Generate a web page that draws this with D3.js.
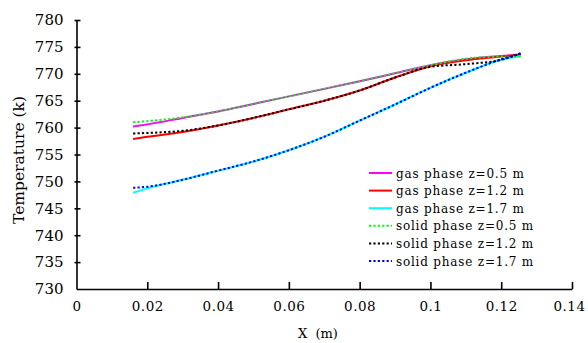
<!DOCTYPE html>
<html>
<head>
<meta charset="utf-8">
<script src="https://cdn.jsdelivr.net/npm/d3@7"></script>
<style>
  body { margin: 0; background: #fff; }
  .axis path, .axis line { stroke: #000; stroke-width: 1.6; }
  .axis text { font-family: "DejaVu Serif", serif; fill: #000; }
</style>
</head>
<body>
<svg id="chart"></svg>
<script>
// x positions (m)
const xValues = [0.016, 0.02, 0.03, 0.04, 0.05, 0.06, 0.07, 0.08, 0.09, 0.10, 0.11, 0.12, 0.1255];

// temperatures (k)
const gas05   = [760.2, 760.6, 761.8, 763.0, 764.4, 765.8, 767.2, 768.6, 770.1, 771.6, 772.7, 773.3, 773.5];
const gas12   = [757.9, 758.3, 759.2, 760.4, 761.8, 763.4, 765.0, 766.9, 769.3, 771.4, 772.5, 773.2, 773.6];
const gas17   = [747.9, 748.7, 750.3, 752.0, 753.7, 755.8, 758.3, 761.3, 764.3, 767.4, 770.2, 772.6, 773.3];
const solid05 = [761.0, 761.2, 761.9, 763.0, 764.4, 765.8, 767.2, 768.6, 770.1, 771.6, 772.8, 773.2, 773.2];
const solid12 = [758.9, 759.0, 759.4, 760.4, 761.8, 763.4, 765.0, 766.9, 769.3, 771.3, 771.8, 772.6, 773.8];
const solid17 = [748.8, 749.0, 750.3, 752.0, 753.7, 755.8, 758.3, 761.3, 764.3, 767.4, 770.2, 772.7, 773.8];

const seriesNames = ['gas phase z=0.5 m', 'gas phase z=1.2 m', 'gas phase z=1.7 m',
                     'solid phase z=0.5 m', 'solid phase z=1.2 m', 'solid phase z=1.7 m'];
const seriesColors = ['#ff00ff', '#ff0000', '#00ffff', '#00ff00', '#000000', '#0000ff'];
const seriesDashed = [false, false, false, true, true, true];

const xTicks = [0, 0.02, 0.04, 0.06, 0.08, 0.1, 0.12, 0.14];
const yTicks = [730, 735, 740, 745, 750, 755, 760, 765, 770, 775, 780];

const width = 588, height = 343;
const margin = { top: 20, right: 16, bottom: 54, left: 76.5 };
const innerW = width - margin.left - margin.right;
const innerH = height - margin.top - margin.bottom;

const svg = d3.select('#chart')
  .attr('width', width)
  .attr('height', height);

const g = svg.append('g')
  .attr('transform', `translate(${margin.left},${margin.top})`);

// Scales
const x = d3.scaleLinear().domain([0, 0.14]).range([0, innerW]);
const y = d3.scaleLinear().domain([730, 780]).range([innerH, 0]);

// Lines (solid ones first, dotted on top)
const allSeries = [gas05, gas12, gas17, solid05, solid12, solid17];
const line = d3.line()
  .x((d, i) => x(xValues[i]))
  .y(d => y(d))
  .curve(d3.curveMonotoneX);

allSeries.forEach((vals, k) => {
  g.append('path')
    .datum(vals)
    .attr('fill', 'none')
    .attr('stroke', seriesColors[k])
    .attr('stroke-width', 2)
    .attr('stroke-dasharray', seriesDashed[k] ? '2.2,2.2' : null)
    .attr('d', line);
});

// Axes
const xAxis = d3.axisBottom(x)
  .tickValues(xTicks)
  .tickSize(0)
  .tickPadding(12)
  .tickFormat(d => d === 0 ? '0' : String(+d.toFixed(2)));

const xAxisG = g.append('g')
  .attr('class', 'axis x-axis')
  .attr('transform', `translate(0,${innerH})`)
  .call(xAxis);
xAxisG.selectAll('.tick line')
  .attr('y1', 0).attr('y2', -7)
  .filter(d => d === 0).remove();
xAxisG.selectAll('text')
  .style('font-size', '13.5px')
  .style('letter-spacing', '0.5px');
// last label sits at the window edge, pull it in a little
xAxisG.selectAll('text')
  .filter(d => d === 0.14)
  .attr('dx', -3);

const yAxis = d3.axisLeft(y)
  .tickValues(yTicks)
  .tickSize(0)
  .tickPadding(13)
  .tickFormat(d3.format('d'));

const yAxisG = g.append('g')
  .attr('class', 'axis y-axis')
  .call(yAxis);
yAxisG.selectAll('.tick line')
  .attr('x1', -2).attr('x2', 4)
  .filter(d => d === 730).remove();
yAxisG.selectAll('text')
  .style('font-size', '15px');

// Axis titles
svg.append('text')
  .attr('x', 318)
  .attr('y', 338)
  .attr('text-anchor', 'middle')
  .style('font-family', '"DejaVu Serif", serif')
  .style('font-size', '13px')
  .style('word-spacing', '4px')
  .text('X (m)');

svg.append('text')
  .attr('transform', 'translate(24,160) rotate(-90)')
  .attr('text-anchor', 'middle')
  .style('font-family', '"DejaVu Serif", serif')
  .style('font-size', '15.5px')
  .text('Temperature (k)');

// Legend
const legend = svg.append('g')
  .attr('transform', 'translate(369,173)');

seriesNames.forEach((name, k) => {
  const row = legend.append('g')
    .attr('transform', `translate(0,${k * 17.6})`);
  row.append('line')
    .attr('x1', 0).attr('x2', 23)
    .attr('y1', 0).attr('y2', 0)
    .attr('stroke', seriesColors[k])
    .attr('stroke-width', 2)
    .attr('stroke-dasharray', seriesDashed[k] ? '2.2,2.2' : null);
  row.append('text')
    .attr('x', 27)
    .attr('y', 4.5)
    .style('font-family', '"DejaVu Serif", serif')
    .style('font-size', '12px')
    .style('letter-spacing', '0.8px')
    .text(name);
});
</script>
</body>
</html>
